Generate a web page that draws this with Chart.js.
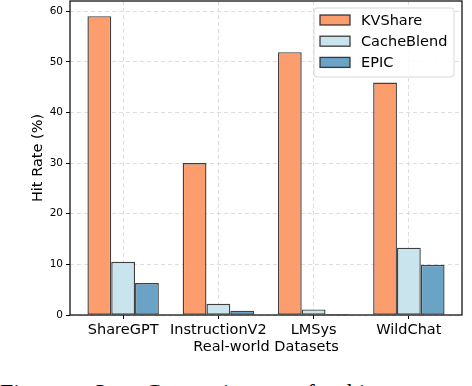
<!DOCTYPE html>
<html>
<head>
<meta charset="utf-8">
<script src="https://cdn.jsdelivr.net/npm/chart.js@4"></script>
<style>
  html, body { margin: 0; padding: 0; background: #fff; }
  #wrap { position: relative; width: 472px; height: 386px; overflow: hidden; }
  #box { position: absolute; left: 0; top: 0; width: 472px; height: 360px; }
  #caption {
    position: absolute; left: 0; top: 379px; white-space: nowrap;
    font-family: "Liberation Serif", serif; font-size: 24px; word-spacing: 26px; color: #000;
  }
</style>
</head>
<body>
<div id="wrap">
  <div id="box"><canvas id="chart"></canvas></div>
  <div id="caption">Figure 3: Comparison of hit rates of</div>
</div>
<script>
// datasets on the x axis
const categories = ['ShareGPT', 'InstructionV2', 'LMSys', 'WildChat'];

// hit rate (%) per method
const kvshare    = [59.0, 30.0, 51.9, 45.9];
const cacheblend = [10.5, 2.2, 1.1, 13.3];
const epic       = [6.3, 0.85, 0.2, 9.9];

const seriesNames = ['KVShare', 'CacheBlend', 'EPIC'];
const yTicks = [0, 10, 20, 30, 40, 50, 60];

const FONT = '"DejaVu Sans", sans-serif';
const EDGE = 'rgba(30,30,30,0.85)';

function points(vals) {
  return vals.map((v, i) => ({ x: i, y: v }));
}

// full frame round the plot, like matplotlib spines
const framePlugin = {
  id: 'frame',
  afterDatasetsDraw(chart) {
    const { ctx, chartArea: a } = chart;
    ctx.save();
    ctx.strokeStyle = '#000';
    ctx.lineWidth = 1.2;
    ctx.strokeRect(a.left, a.top, a.right - a.left, a.bottom - a.top);
    ctx.restore();
  }
};

// legend drawn inside the plot, upper right
const boxLegend = {
  id: 'boxLegend',
  afterDraw(chart) {
    const { ctx } = chart;
    const x0 = 314, y0 = 8, w = 140, h = 69;
    ctx.save();
    ctx.beginPath();
    ctx.roundRect(x0, y0, w, h, 3);
    ctx.fillStyle = 'rgba(255,255,255,0.85)';
    ctx.fill();
    ctx.strokeStyle = '#d8d8d8';
    ctx.lineWidth = 1;
    ctx.stroke();
    ctx.font = '14.5px ' + FONT;
    ctx.textBaseline = 'middle';
    chart.data.datasets.forEach((ds, i) => {
      const cy = 20 + i * 21.2;
      ctx.fillStyle = ds.backgroundColor;
      ctx.fillRect(320, cy - 5, 30, 10);
      ctx.strokeStyle = EDGE;
      ctx.lineWidth = 1.3;
      ctx.strokeRect(320, cy - 5, 30, 10);
      ctx.fillStyle = '#000';
      ctx.fillText(ds.label, 361, cy + 1);
    });
    ctx.restore();
  }
};

const colors = ['#FC9D6E', '#C9E4EC', '#6AA3C6'];
const values = [kvshare, cacheblend, epic];

new Chart(document.getElementById('chart'), {
  type: 'bar',
  data: {
    datasets: values.map((vals, i) => ({
      label: seriesNames[i],
      data: points(vals),
      backgroundColor: colors[i],
      borderColor: EDGE,
      borderWidth: 1.4,
      borderSkipped: false,
      categoryPercentage: 0.75,
      barPercentage: 1.0
    }))
  },
  options: {
    responsive: true,
    maintainAspectRatio: false,
    animation: false,
    layout: { padding: { top: 1, right: 10, left: 0, bottom: 0 } },
    plugins: { legend: { display: false }, tooltip: { enabled: false } },
    scales: {
      x: {
        type: 'linear',
        offset: false,
        min: -0.558,
        max: 3.558,
        afterBuildTicks: axis => { axis.ticks = categories.map((_, i) => ({ value: i })); },
        afterFit: axis => { axis.height = 45; },
        ticks: {
          callback: v => categories[v],
          color: '#000',
          padding: 3,
          maxRotation: 0,
          autoSkip: false,
          font: { family: FONT, size: 14.5 }
        },
        grid: {
          offset: false,
          color: '#d6d6d6', lineWidth: 0.8,
          tickColor: '#000', tickLength: 4, tickWidth: 1, tickBorderDash: []
        },
        border: { display: false, dash: [4, 3] },
        title: {
          display: true, text: 'Real-world Datasets', color: '#000',
          font: { family: FONT, size: 14.5 }, padding: { top: 0, bottom: 4 }
        }
      },
      y: {
        min: 0,
        max: 62,
        afterBuildTicks: axis => { axis.ticks = yTicks.map(v => ({ value: v })); },
        afterFit: axis => { axis.width = 70; axis.paddingTop = 0; axis.paddingBottom = 0; },
        ticks: {
          color: '#000',
          padding: 3,
          font: { family: FONT, size: 10.5 }
        },
        grid: {
          color: '#d6d6d6', lineWidth: 0.8,
          tickColor: '#000', tickLength: 4, tickWidth: 1, tickBorderDash: []
        },
        border: { display: false, dash: [4, 3] },
        title: {
          display: true, text: 'Hit Rate (%)', color: '#000',
          font: { family: FONT, size: 14.5 }, padding: { top: 30, bottom: 0 }
        }
      }
    }
  },
  plugins: [framePlugin, boxLegend]
});
</script>
</body>
</html>
